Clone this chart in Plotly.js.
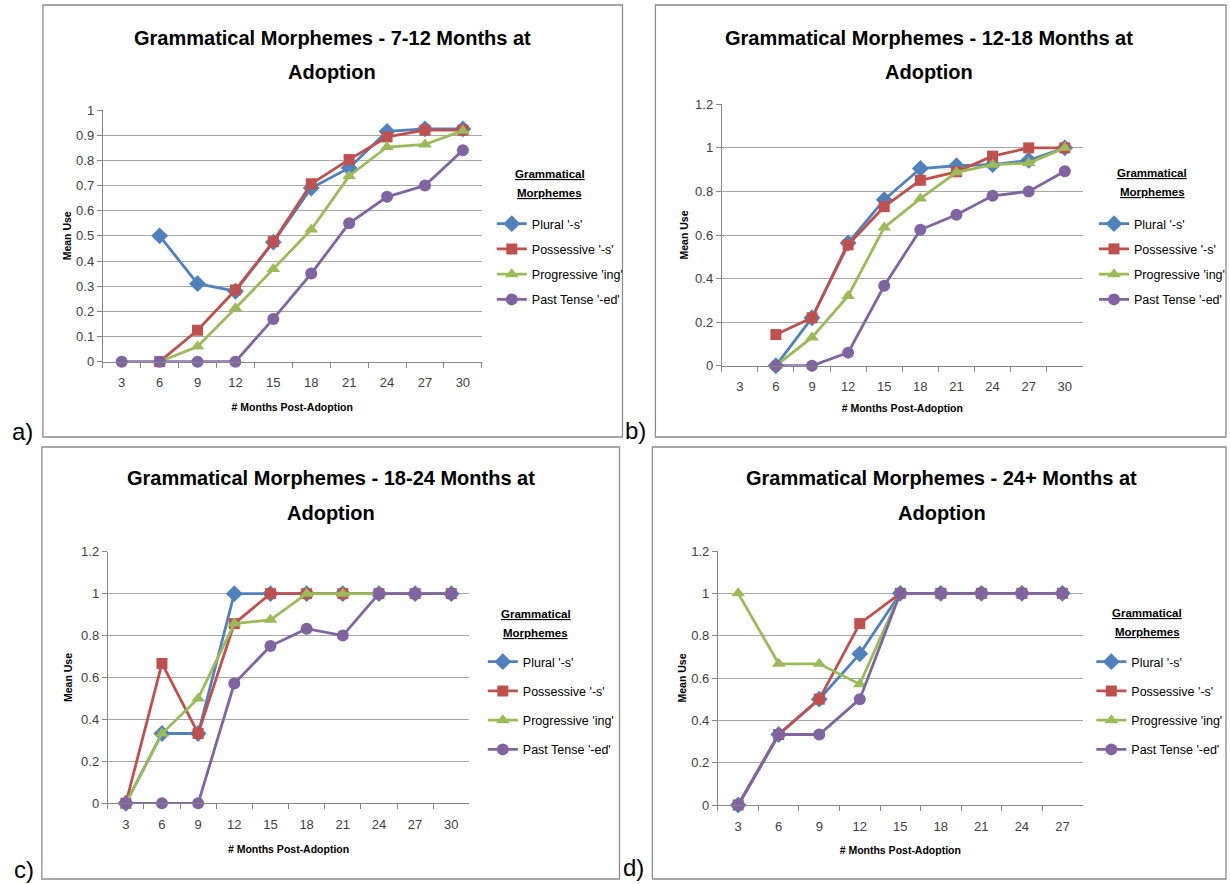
<!DOCTYPE html>
<html>
<head>
<meta charset="utf-8">
<script src="https://cdn.plot.ly/plotly-3.0.1.min.js"></script>
<style>
html,body{margin:0;padding:0;background:#fff;}
#chart{width:1230px;height:884px;}
</style>
</head>
<body>
<div id="chart"></div>
<script>
// ---------------- DATA ----------------
const seriesNames = ["Plural '-s'", "Possessive '-s'", "Progressive 'ing'", "Past Tense '-ed'"];
const months30 = ['3','6','9','12','15','18','21','24','27','30'];
const months27 = ['3','6','9','12','15','18','21','24','27'];

const titleA = ['Grammatical Morphemes - 7-12 Months at', 'Adoption'];
const titleB = ['Grammatical Morphemes - 12-18 Months at', 'Adoption'];
const titleC = ['Grammatical Morphemes - 18-24 Months at', 'Adoption'];
const titleD = ['Grammatical Morphemes - 24+ Months at', 'Adoption'];
const legendTitle = ['Grammatical', 'Morphemes'];
const xTitle = '# Months Post-Adoption';
const yTitle = 'Mean Use';

// a) 7-12 months at adoption
const pluralA      = [null, 0.50, 0.31, 0.28, 0.475, 0.69, 0.77, 0.915, 0.925, 0.925];
const possessiveA  = [null, 0.00, 0.125, 0.285, 0.477, 0.707, 0.803, 0.893, 0.92, 0.92];
const progressiveA = [null, 0.00, 0.06, 0.212, 0.368, 0.525, 0.738, 0.853, 0.863, 0.918];
const pastA        = [0, 0, 0, 0, 0.17, 0.35, 0.55, 0.655, 0.70, 0.84];

// b) 12-18 months at adoption
const pluralB      = [null, 0, 0.22, 0.563, 0.762, 0.905, 0.918, 0.923, 0.943, 1.0];
const possessiveB  = [null, 0.143, 0.22, 0.555, 0.73, 0.851, 0.89, 0.962, 1.0, 1.0];
const progressiveB = [null, 0, 0.13, 0.32, 0.635, 0.767, 0.888, 0.923, 0.93, 1.0];
const pastB        = [null, 0, 0, 0.06, 0.367, 0.624, 0.693, 0.78, 0.80, 0.893];

// c) 18-24 months at adoption
const pluralC      = [0, 0.333, 0.333, 1, 1, 1, 1, 1, 1, 1];
const possessiveC  = [0, 0.667, 0.333, 0.857, 1, 1, 1, 1, 1, 1];
const progressiveC = [0, 0.333, 0.5, 0.857, 0.875, 1, 1, 1, 1, 1];
const pastC        = [0, 0, 0, 0.571, 0.75, 0.833, 0.80, 1, 1, 1];

// d) 24+ months at adoption
const pluralD      = [0, 0.333, 0.5, 0.714, 1, 1, 1, 1, 1];
const possessiveD  = [0, 0.333, 0.5, 0.857, 1, 1, 1, 1, 1];
const progressiveD = [1, 0.667, 0.667, 0.571, 1, 1, 1, 1, 1];
const pastD        = [0, 0.333, 0.333, 0.5, 1, 1, 1, 1, 1];

// ---------------- STYLE ----------------
const W = 1230, H = 884;
const fx = p => p / W;
const fy = p => 1 - p / H;
const colors = ['#4F81BD', '#C0504D', '#9BBB59', '#8064A2'];
const symbols = ['diamond', 'square', 'triangle-up', 'circle'];
const msize = [13, 11, 12, 12];
const SANS = "'Liberation Sans', Arial, sans-serif";

const panels = [
  {cats: months30, data: [pluralA, possessiveA, progressiveA, pastA], title: titleA,
   box: [103, 483, 110, 361.7], ymax: 1, dtick: 0.1,
   leg: [493, 209], legGap: 6, legTitle: [551, 174, 193],
   tpos: [333, 38, 72], label: ['a)', 23, 431], border: [43, 624, 5, 437], ystand: 2, xstand: 14},
  {cats: months30, data: [pluralB, possessiveB, progressiveB, pastB], title: titleB,
   box: [723.5, 1085.5, 104.3, 365.7], ymax: 1.2, dtick: 0.2,
   leg: [1097, 209], legGap: 6, legTitle: [1155, 173, 192],
   tpos: [931, 38, 72], label: ['b)', 637, 430], border: [657, 1229, 5, 437], ystand: 4, xstand: 11},
  {cats: months30, data: [pluralC, possessiveC, progressiveC, pastC], title: titleC,
   box: [108, 470.5, 551.7, 803.3], ymax: 1.2, dtick: 0.2,
   leg: [484, 647], legGap: 10, legTitle: [537, 614, 633],
   tpos: [332, 478, 513], label: ['c)', 24, 869], border: [42, 621, 447, 879], ystand: 6, xstand: 14},
  {cats: months27, data: [pluralD, possessiveD, progressiveD, pastD], title: titleD,
   box: [719.7, 1085.3, 551, 805], ymax: 1.2, dtick: 0.2,
   leg: [1094, 647], legGap: 10, legTitle: [1150, 613, 632],
   tpos: [944, 478, 513], label: ['d)', 635, 867], border: [654, 1229, 447, 879], ystand: 2, xstand: 14}
];

const traces = [];
const layout = {
  width: W, height: H,
  margin: {l: 0, r: 0, t: 0, b: 0},
  paper_bgcolor: '#ffffff', plot_bgcolor: '#ffffff',
  showlegend: true,
  annotations: [], shapes: []
};

function note(text, x, y, size, opts) {
  layout.annotations.push(Object.assign({
    xref: 'paper', yref: 'paper', x: fx(x), y: fy(y),
    xanchor: 'center', yanchor: 'middle', showarrow: false,
    text: text, font: {family: SANS, size: size, color: '#000'}
  }, opts || {}));
}

panels.forEach((p, i) => {
  const n = i + 1;
  const xa = n === 1 ? 'x' : 'x' + n;
  const ya = n === 1 ? 'y' : 'y' + n;
  const legName = n === 1 ? 'legend' : 'legend' + n;
  p.data.forEach((vals, s) => {
    traces.push({
      type: 'scatter', mode: 'lines+markers',
      x: p.cats, y: vals,
      name: seriesNames[s],
      xaxis: xa, yaxis: ya,
      legend: legName, legendgroup: 'g' + n + '_' + s,
      line: {color: colors[s], width: 2.8},
      marker: {symbol: symbols[s], size: msize[s], color: colors[s]},
      cliponaxis: false,
      connectgaps: false,
      hoverinfo: 'x+y'
    });
  });
  const [x0, x1, y0, y1] = p.box;
  layout[n === 1 ? 'xaxis' : 'xaxis' + n] = {
    domain: [fx(x0), fx(x1)], anchor: ya,
    type: 'category', categoryarray: p.cats, categoryorder: 'array',
    range: [-0.5, p.cats.length - 0.5],
    tickson: 'boundaries', ticks: 'outside', ticklen: 5, tickcolor: '#868686',
    ticklabelstandoff: 9,
    showline: true, linecolor: '#868686', linewidth: 1,
    showgrid: false, zeroline: false,
    tickfont: {family: SANS, size: 13, color: '#404040'},
    title: {text: '<b>' + xTitle + '</b>', font: {family: SANS, size: 10.5, color: '#000'}, standoff: p.xstand}
  };
  layout[n === 1 ? 'yaxis' : 'yaxis' + n] = {
    domain: [fy(y1), fy(y0)], anchor: xa,
    range: [0, p.ymax], dtick: p.dtick, tick0: 0,
    ticks: 'outside', ticklen: 5, tickcolor: '#868686',
    showline: true, linecolor: '#868686', linewidth: 1,
    showgrid: true, gridcolor: '#a6a6a6', gridwidth: 1, zeroline: false,
    tickfont: {family: SANS, size: 13, color: '#404040'},
    title: {text: '<b>' + yTitle + '</b>', font: {family: SANS, size: 10.5, color: '#000'}, standoff: p.ystand}
  };
  layout[legName] = {
    x: fx(p.leg[0]), y: fy(p.leg[1]), xanchor: 'left', yanchor: 'top',
    xref: 'paper', yref: 'paper',
    bgcolor: 'rgba(0,0,0,0)', borderwidth: 0,
    traceorder: 'grouped', tracegroupgap: p.legGap,
    font: {family: SANS, size: 12.5, color: '#000'}
  };
  // legend heading (two underlined bold lines)
  note('<b><u>' + legendTitle[0] + '</u></b>', p.legTitle[0], p.legTitle[1], 11.5);
  note('<b><u>' + legendTitle[1] + '</u></b>', p.legTitle[0], p.legTitle[2], 11.5);
  // chart title (two lines)
  note('<b>' + p.title[0] + '</b>', p.tpos[0], p.tpos[1], 20);
  note('<b>' + p.title[1] + '</b>', p.tpos[0], p.tpos[2], 20);
  // panel label
  note(p.label[0], p.label[1], p.label[2], 24);
  const [bx0, bx1, by0, by1] = p.border;
  layout.shapes.push({
    type: 'rect', xref: 'paper', yref: 'paper',
    x0: fx(bx0), x1: fx(bx1), y0: fy(by1), y1: fy(by0),
    line: {color: '#8c8c8c', width: 1.3}, fillcolor: 'rgba(0,0,0,0)', layer: 'below'
  });
});

Plotly.newPlot('chart', traces, layout, {displayModeBar: false, staticPlot: true});
</script>
</body>
</html>
